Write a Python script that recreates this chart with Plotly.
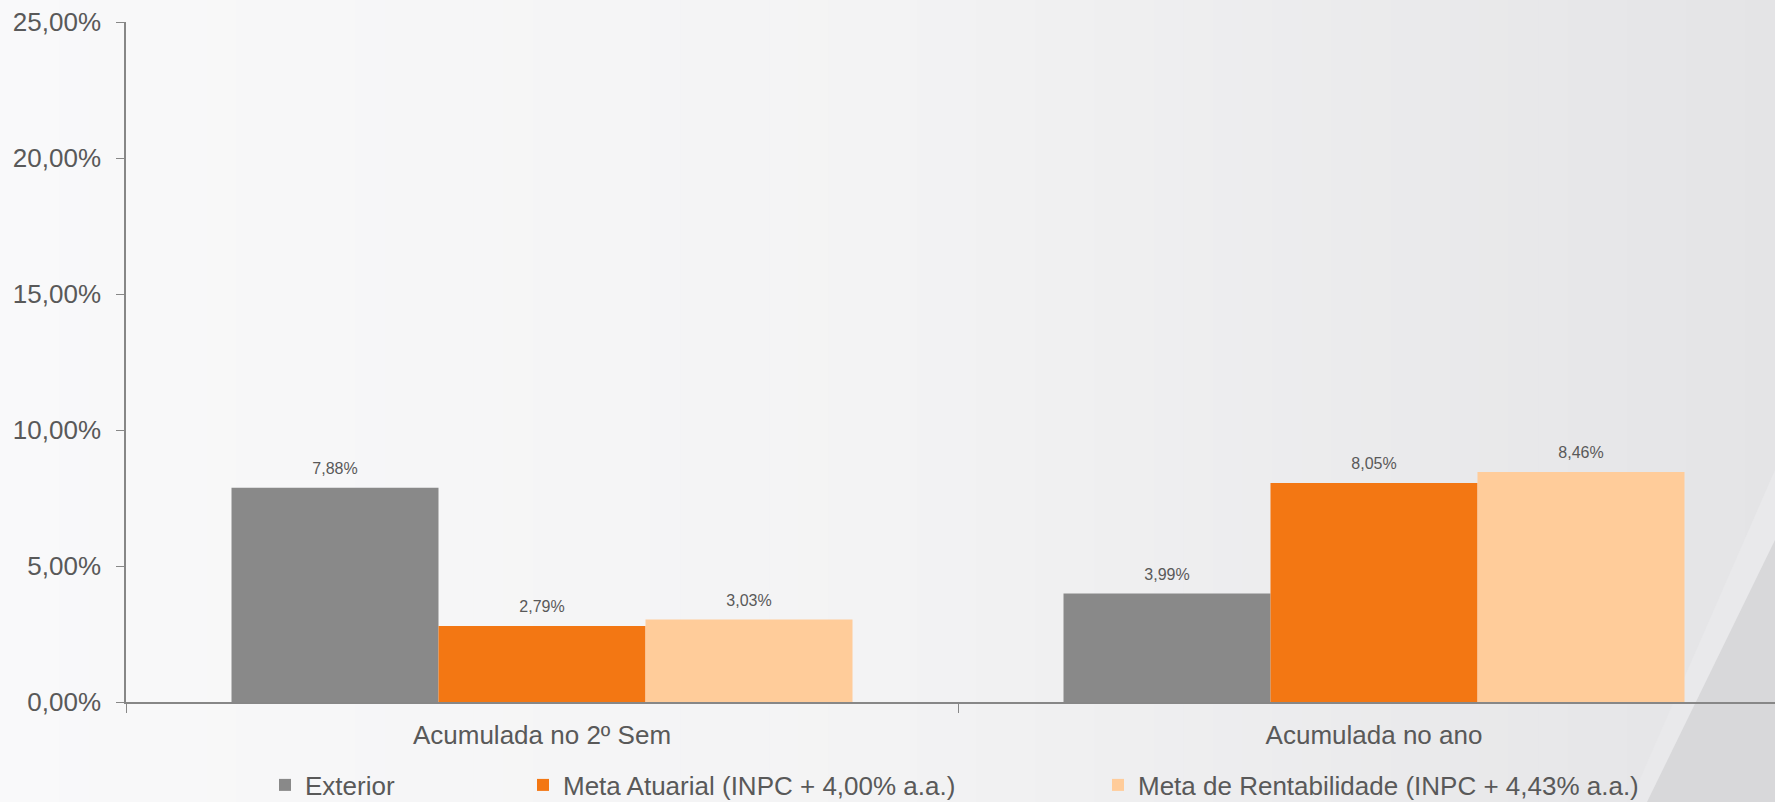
import plotly.graph_objects as go

categories = ["Acumulada no 2º Sem", "Acumulada no ano"]
series_names = ["Exterior", "Meta Atuarial (INPC + 4,00% a.a.)", "Meta de Rentabilidade (INPC + 4,43% a.a.)"]
exterior = [7.88, 3.99]
meta_atuarial = [2.79, 8.05]
meta_rentab = [3.03, 8.46]
y_ticks = [0, 5, 10, 15, 20, 25]
y_tick_labels = ["0,00%", "5,00%", "10,00%", "15,00%", "20,00%", "25,00%"]

colors = ["#898989", "#F37713", "#FFCC9A"]
series_values = [exterior, meta_atuarial, meta_rentab]

W, H = 1775, 802
L, R, T, B = 126, 0, 22, 100
TXT = "#595959"
AX = "#878787"
FONT = "Liberation Sans, Arial, sans-serif"

fig = go.Figure()

legend_ids = ["legend", "legend2", "legend3"]
for name, vals, col, lg in zip(series_names, series_values, colors, legend_ids):
    fig.add_trace(go.Bar(
        x=categories, y=vals, name=name, marker=dict(color=col, line=dict(width=0)),
        legend=lg, hoverinfo="skip",
    ))

# data labels, grouped like the bars
for name, vals in zip(series_names, series_values):
    fig.add_trace(go.Scatter(
        x=categories, y=vals, mode="markers+text",
        text=[f"{v:.2f}%".replace(".", ",") for v in vals],
        textposition="top center",
        textfont=dict(size=16, color=TXT, family=FONT),
        marker=dict(size=14, color="rgba(0,0,0,0)"),
        showlegend=False, hoverinfo="skip", cliponaxis=False,
    ))

# background gradient (decoration)
pw = W - L - R
ph = H - T - B
x0p = -L / pw
x1p = 1 + R / pw
y0p = -B / ph
y1p = 1 + T / ph

def bg_col(f):
    stops = [(0.0, (249, 249, 250)), (0.5, (243, 243, 244)), (1.0, (228, 228, 230))]
    for (a, ca), (b, cb) in zip(stops[:-1], stops[1:]):
        if a <= f <= b:
            t = (f - a) / (b - a)
            c = [round(ca[i] + (cb[i] - ca[i]) * t) for i in range(3)]
            return f"rgb({c[0]},{c[1]},{c[2]})"
    return "rgb(228,228,230)"

shapes = []
N = 60
for i in range(N):
    xa = x0p + (x1p - x0p) * i / N
    xb = x0p + (x1p - x0p) * (i + 1) / N + 0.001
    shapes.append(dict(type="rect", xref="paper", yref="paper", x0=xa, x1=xb, y0=y0p - 0.01, y1=y1p + 0.01,
                       fillcolor=bg_col((i + 0.5) / N), line=dict(width=0), layer="below"))

def px2paper(px, py):
    return ((px - L) / pw, (H - B - py) / ph)

# light diagonal band and darker corner
pts_band = [px2paper(1775, 470), px2paper(1630, 802), px2paper(1775, 802)]
pts_dark = [px2paper(1775, 540), px2paper(1647, 802), px2paper(1775, 802)]
def path(pts):
    return "M " + " L ".join(f"{x},{y}" for x, y in pts) + " Z"
shapes.append(dict(type="path", xref="paper", yref="paper", path=path(pts_band),
                   fillcolor="rgb(233,233,235)", line=dict(width=0), layer="below"))
shapes.append(dict(type="path", xref="paper", yref="paper", path=path(pts_dark),
                   fillcolor="rgb(216,216,218)", line=dict(width=0), layer="below"))

ly = (H - B - 785) / ph
legend_common = dict(orientation="h", yanchor="middle", xanchor="left", bgcolor="rgba(0,0,0,0)",
                     font=dict(size=26, color=TXT, family=FONT))
fig.update_layout(
    width=W, height=H,
    margin=dict(l=L, r=R, t=T, b=B, pad=0, autoexpand=False),
    paper_bgcolor="rgb(246,246,247)",
    plot_bgcolor="rgba(0,0,0,0)",
    barmode="group", bargap=0.2536, bargroupgap=0,
    scattermode="group",
    separators=",.",
    showlegend=True,
    font=dict(family=FONT, color=TXT),
    shapes=shapes,
    legend=dict(legend_common, x=(265 - L) / pw, y=ly),
    legend2=dict(legend_common, x=(523 - L) / pw, y=ly),
    legend3=dict(legend_common, x=(1098 - L) / pw, y=ly),
    xaxis=dict(
        range=[-0.5, -0.5 + pw / 832.0], showgrid=False, zeroline=False,
        showline=True, linecolor=AX, linewidth=1.5, automargin=False,
        ticks="outside", tickson="boundaries", ticklen=9, tickcolor=AX, tickwidth=1.2,
        tickfont=dict(size=26, color=TXT, family=FONT), ticklabelstandoff=9,
    ),
    yaxis=dict(
        range=[0, 25], tickvals=y_ticks, ticktext=y_tick_labels,
        showgrid=False, zeroline=False, automargin=False,
        showline=True, linecolor=AX, linewidth=1.5,
        ticks="outside", ticklen=8, tickcolor=AX, tickwidth=1.2,
        tickfont=dict(size=26, color=TXT, family=FONT), ticklabelstandoff=10,
    ),
)

fig.write_html("out.html", config={"displayModeBar": False},
               post_script="document.body.style.margin='0';document.body.style.overflow='hidden';")
